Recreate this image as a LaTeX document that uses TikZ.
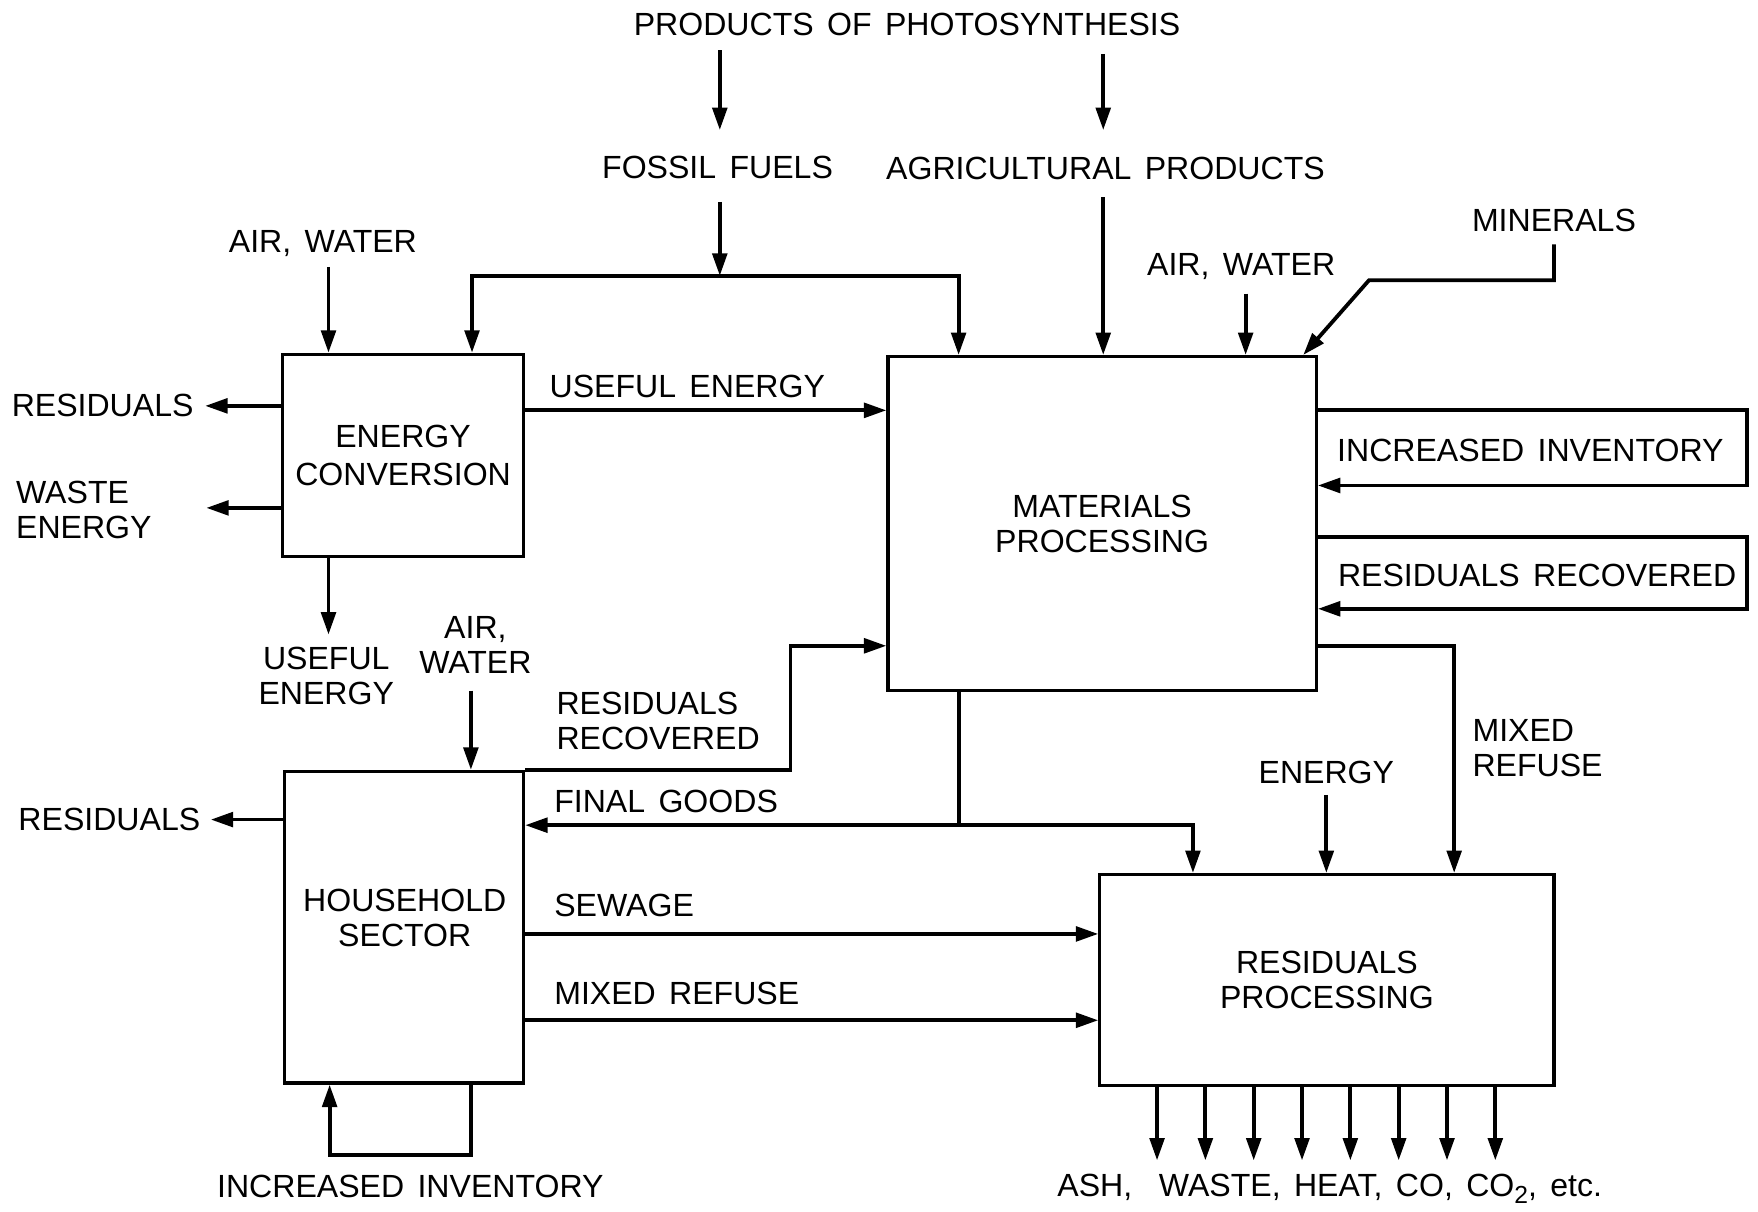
\documentclass[tikz,border=0pt]{standalone}
\usepackage{fontspec}
\setmainfont{Liberation Sans}[WordSpace=1.5]
\usetikzlibrary{arrows.meta,calc}
\begin{document}
\begin{tikzpicture}[x=0.5pt,y=-0.5pt,
  every node/.style={font=\fontsize{14.3}{15.5}\selectfont, inner sep=2pt},
  box/.style={draw, line width=1.4pt, inner sep=0pt, align=center},
  lbl/.style={align=center},
  lbll/.style={align=left},
  con/.style={line width=1.7pt},
  arr/.style={con, -{Triangle[length=10pt,width=6.5pt]}},
]
\useasboundingbox (0,0) rectangle (1568,1081);

% boxes
\node[box, minimum width=107.5pt, minimum height=90pt, font=\fontsize{14.3}{17}\selectfont] (ec) at (359.5,406) {ENERGY\\CONVERSION};
\node[box, minimum width=191pt, minimum height=149pt] (mp) at (983,467) {MATERIALS\\PROCESSING};
\node[box, minimum width=106.5pt, minimum height=139pt] (hh) at (360.5,827) {};
\node[lbl] (hhl) at (361,819) {HOUSEHOLD\\SECTOR};
\node[box, minimum width=202.5pt, minimum height=94pt] (rp) at (1183.5,874) {RESIDUALS\\PROCESSING};

% labels
\node (pop) at (809,22) {PRODUCTS OF PHOTOSYNTHESIS};
\node (ff) at (640,149) {FOSSIL FUELS};
\node (ag) at (986,150) {AGRICULTURAL PRODUCTS};
\node (aw1) at (288,217) {AIR, WATER};
\node (aw2) at (1107,238) {AIR, WATER};
\node (min) at (1386,197) {MINERALS};
\node[anchor=east] (res1) at (177,362) {RESIDUALS};
\node[lbll, anchor=west] (waste) at (10,455) {WASTE\\ENERGY};
\node (ue1) at (613,345) {USEFUL ENERGY};
\node[lbl] (ue2) at (291,603) {USEFUL\\ENERGY};
\node[lbl] (aw3) at (424,575) {AIR,\\WATER};
\node[lbll, anchor=west] (rr1) at (492,643) {RESIDUALS\\RECOVERED};
\node[anchor=west] (fg) at (490,715) {FINAL GOODS};
\node[anchor=east] (res2) at (183,731) {RESIDUALS};
\node[anchor=west] (sew) at (490,808) {SEWAGE};
\node[anchor=west] (mr1) at (490,886) {MIXED REFUSE};
\node (ii1) at (366,1058) {INCREASED INVENTORY};
\node (ii2) at (1365,402) {INCREASED INVENTORY};
\node (rr2) at (1371,513) {RESIDUALS RECOVERED};
\node[lbll, anchor=west] (mr2) at (1309,667) {MIXED\\REFUSE};
\node (en) at (1183,689) {ENERGY};
\node (ash) at (1186,1060) {ASH,\ \ WASTE, HEAT, CO, CO{\fontsize{11}{11}\selectfont\raisebox{-0.55ex}{2}}, etc.};

% top arrows
\coordinate (p1s) at (642,45); \coordinate (p1e) at (642,116);
\draw[arr] (p1s) -- (p1e);
\coordinate (p2s) at (984,48); \coordinate (p2e) at (984,116);
\draw[arr] (p2s) -- (p2e);
% fossil fuels
\coordinate (ffs) at (642,180); \coordinate (fj) at (642,246);
\draw[arr] (ffs) -- (fj);
\coordinate (fl) at (421,246); \coordinate (fr) at (855,246);
\draw[arr] (fj) -- (fl) -- (fl |- ec.north);
\draw[arr] (fj) -- (fr) -- (fr |- mp.north);
% agricultural products
\coordinate (ags) at (984,176);
\draw[arr] (ags) -- (ags |- mp.north);
% air, water
\coordinate (aw1s) at (293,238);
\draw[arr] (aw1s) -- (aw1s |- ec.north);
\coordinate (aw2s) at (1111,262);
\draw[arr] (aw2s) -- (aw2s |- mp.north);
% minerals
\coordinate (mns) at (1386,218); \coordinate (mnk) at (1386,250); \coordinate (mnl) at (1221,250);
\draw[arr] (mns) -- (mnk) -- (mnl) -- ($(mp.north east)+(-13,0)$);

% energy conversion outputs
\draw[arr, shorten >=3pt] (ec.west |- res1.east) -- (res1.east);
\coordinate (wt) at (184,453);
\draw[arr] (ec.west |- wt) -- (wt);
\coordinate (yue) at (0,366);
\draw[arr] (ec.east |- yue) -- (mp.west |- yue);
\coordinate (ue2e) at (293,566);
\draw[arr] (ue2e |- ec.south) -- (ue2e);

% household inputs/outputs
\coordinate (aw3s) at (420,616);
\draw[arr] (aw3s) -- (aw3s |- hh.north);
\coordinate (rrk) at (705,576);
\draw[arr] (hh.north east) -| (rrk) -- (mp.west |- rrk);
\coordinate (fgj) at (855,736); \coordinate (fgr) at (1064,736);
\draw[con] (fgj |- mp.south) -- (fgj);
\draw[arr] (fgj) -- (hh.east |- fgj);
\draw[arr] (fgj) -- (fgr) -- (fgr |- rp.north);
\draw[arr, shorten >=2.5pt] (hh.west |- res2.east) -- (res2.east);
\coordinate (ysw) at (0,833); \coordinate (ymr) at (0,910);
\draw[arr] (hh.east |- ysw) -- (rp.west |- ysw);
\draw[arr] (hh.east |- ymr) -- (rp.west |- ymr);
\coordinate (iia) at (420,1030); \coordinate (iib) at (294,1030);
\draw[arr] (iia |- hh.south) -- (iia) -- (iib) -- (iib |- hh.south);

% materials processing loops
\coordinate (la1) at (1558,366); \coordinate (la2) at (1558,433);
\draw[arr] (mp.east |- la1) -- (la1) -- (la2) -- (mp.east |- la2);
\coordinate (lb1) at (1558,479); \coordinate (lb2) at (1558,543);
\draw[arr] (mp.east |- lb1) -- (lb1) -- (lb2) -- (mp.east |- lb2);
\coordinate (mrk) at (1297,576);
\draw[arr] (mp.east |- mrk) -- (mrk) -- (mrk |- rp.north);

% residuals processing
\coordinate (ens) at (1183,709);
\draw[arr] (ens) -- (ens |- rp.north);
\foreach \i in {0,...,7} {
  \coordinate (o\i) at ({1032+43.1*\i},1035);
  \draw[arr] (o\i |- rp.south) -- (o\i);
}
\end{tikzpicture}
\end{document}
